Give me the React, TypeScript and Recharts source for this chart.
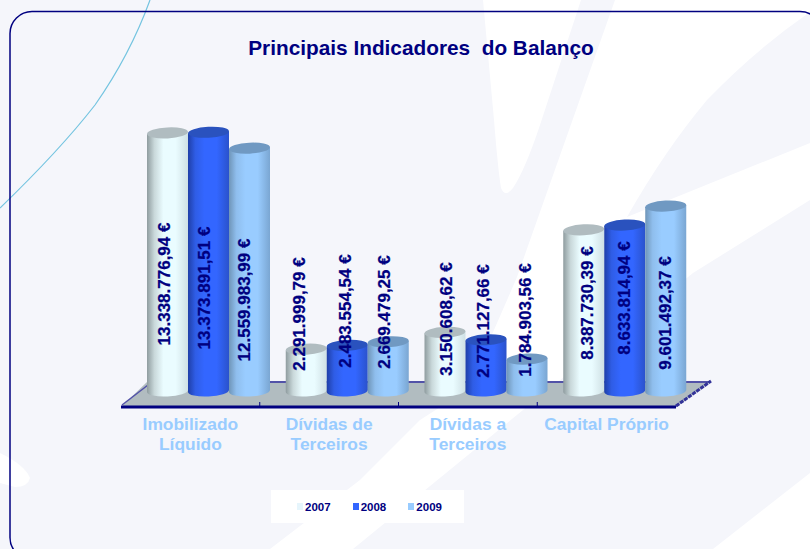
import { Bar, BarChart, LabelList, Legend, XAxis, YAxis } from 'recharts';

const categories = ['Imobilizado Líquido', 'Dívidas de Terceiros', 'Dívidas a Terceiros', 'Capital Próprio'];
const years = ['2007', '2008', '2009'];
const values2007 = [13338776.94, 2291999.79, 3150608.62, 8387730.39];
const values2008 = [13373891.51, 2483554.54, 2771127.66, 8633814.94];
const values2009 = [12559983.99, 2669479.25, 1784903.56, 9601492.37];

const data = categories.map((name, i) => ({
  name,
  '2007': values2007[i],
  '2008': values2008[i],
  '2009': values2009[i]
}));

// colours per series: swatch, top cap, gradient stops
const swatch = ['#e6f5fc', '#3366ff', '#99ccff'];
const caps = ['#b0bcc0', '#2a52be', '#7099c2'];
const stops = [
  ['#8f9c9f', '#c9d8da', '#eafcff', '#eafcff', '#cfe0e4'],
  ['#1f3fa8', '#2f5de6', '#3366ff', '#3366ff', '#2a52cc'],
  ['#6f95b8', '#8fbeed', '#99ccff', '#99ccff', '#7aa6d2']
];

// the original labels sit where the spreadsheet left them, so they are placed by hand
const labelDx = [
  [-3, -7, 1, 4],
  [-4, -2, -3, 0],
  [-5, -4, -2, 0]
];
const labelCy = [
  [284, 314, 319, 303],
  [288, 311, 321, 298],
  [300, 312, 320, 313]
];

const AXIS_Y = 407;
const SHIFT_X = 18; // columns stand back on the floor
const SHIFT_TOP = 12;
const SHIFT_BOTTOM = 15;
const CAT_W = 138.75;

const formatEuro = (v: number) => {
  const [int, dec] = v.toFixed(2).split('.');
  return int.replace(/\B(?=(\d{3})+$)/g, '.') + ',' + dec + ' €';
};

function Cylinder(props: any) {
  const { x, y, width, height, series } = props;
  const left = x + SHIFT_X;
  const right = left + width;
  const top = y - SHIFT_TOP;
  const bottom = y + height - SHIFT_BOTTOM;
  const rx = width / 2;
  const ry = 5.5;
  const lift = 2;
  return (
    <g>
      <path
        d={`M${left} ${top} L${left} ${bottom} A${rx} ${ry} -3 0 0 ${right} ${bottom - lift} L${right} ${top - lift} Z`}
        fill={`url(#cyl${series})`}
      />
      <ellipse
        cx={left + rx}
        cy={top - lift / 2}
        rx={rx}
        ry={ry}
        fill={caps[series]}
        transform={`rotate(-3 ${left + rx} ${top - lift / 2})`}
      />
    </g>
  );
}

function ValueLabel(props: any) {
  const { x, width, value, index, series } = props;
  const cx = x + SHIFT_X + width / 2 + labelDx[series][index];
  const cy = labelCy[series][index];
  return (
    <text
      x={cx}
      y={cy}
      transform={`rotate(-90 ${cx} ${cy})`}
      textAnchor='middle'
      dominantBaseline='central'
      fontFamily='Liberation Sans'
      fontWeight={700}
      fontSize={17}
      fill='#000080'
      stroke='#000080'
      strokeWidth={0.25}
    >
      {formatEuro(value)}
    </text>
  );
}

function CategoryTick({ x, payload, index }: any) {
  const words = payload.value.split(' ');
  const lines = words.length > 2 ? [words.slice(0, 2).join(' '), words[2]] : index === 3 ? [payload.value] : words;
  return (
    <g>
      {index < categories.length - 1 && (
        <line x1={x + CAT_W / 2} x2={x + CAT_W / 2} y1={AXIS_Y - 5} y2={AXIS_Y} stroke='#000080' />
      )}
      {lines.map((line: string, i: number) => (
        <text
          key={line}
          x={x}
          y={430 + i * 20}
          textAnchor='middle'
          fontFamily='Liberation Sans'
          fontWeight={700}
          fontSize={17.4}
          fill='#99ccff'
        >
          {line}
        </text>
      ))}
    </g>
  );
}

function YearLegend({ payload }: any) {
  return (
    <div style={{ display: 'flex', height: 33, alignItems: 'center', background: '#fff', paddingLeft: 26, boxSizing: 'border-box' }}>
      {(payload || []).map((entry: any) => (
        <div key={entry.value} style={{ width: 57, display: 'flex', alignItems: 'center' }}>
          <span style={{ width: 6, height: 7, marginRight: 2, background: entry.color }} />
          <span style={{ font: 'bold 11.5px "Liberation Sans"', color: '#000080' }}>{entry.value}</span>
        </div>
      ))}
    </div>
  );
}

function Backdrop() {
  return (
    <svg width={810} height={549} style={{ position: 'absolute', left: 0, top: 0 }}>
      <rect width={810} height={549} fill='#f5f6fb' />
      <g fill='#ffffff'>
        <path d='M483 0 L581 0 L540 125 Q525 170 513 188 Q505 198 501 188 Q498 170 494 120 Z' />
        <path d='M615 0 L810 0 L810 12 Q755 50 707 100 Q665 150 627 217 L810 143 L810 200 L693 273 L523 410 L353 549 L270 549 L360 480 L420 420 L467 390 Q490 340 517 277 Z' />
        <path d='M713 549 L810 473 L810 549 Z' />
        <path d='M0 453 Q25 465 30 478 Q28 487 15 487 L0 483 Z' />
      </g>
      <path d='M150 0 Q130 55 95 105 Q60 150 0 208' fill='none' stroke='#74c4e0' strokeWidth={1.2} />
      <rect x={10} y={11.5} width={812} height={548} rx={22} fill='none' stroke='#000080' strokeWidth={1.5} />
      <polygon points='121,407 147,382 711,382 676,407' fill='#b1bcc0' />
      <line x1={147} y1={382} x2={711} y2={382} stroke='#5252a8' strokeWidth={2} />
      <line x1={122} y1={405} x2={148} y2={385} stroke='#5252a8' strokeWidth={1.5} />
      <line x1={676} y1={406} x2={711} y2={381} stroke='#333399' strokeWidth={3} strokeDasharray='4 1' />
    </svg>
  );
}

export default function App() {
  const seriesValues = [values2007, values2008, values2009];
  return (
    <div style={{ position: 'absolute', left: 0, top: 0, width: 810, height: 549, overflow: 'hidden' }}>
      <Backdrop />
      <div
        style={{
          position: 'absolute',
          left: 0,
          top: 36,
          width: 842,
          textAlign: 'center',
          font: 'bold 20.8px "Liberation Sans"',
          color: '#000080',
          whiteSpace: 'pre'
        }}
      >
        {'Principais Indicadores  do Balanço'}
      </div>
      <div style={{ position: 'absolute', left: 0, top: 0 }}>
        <BarChart
          width={810}
          height={549}
          data={data}
          barSize={41}
          barGap={0}
          margin={{ top: 133, right: 134, bottom: 0, left: 121 }}
          style={{ overflow: 'visible' }}
        >
          <defs>
            {stops.map((s, i) => (
              <linearGradient key={i} id={`cyl${i}`} x1='0' x2='1' y1='0' y2='0'>
                <stop offset='0%' stopColor={s[0]} />
                <stop offset='18%' stopColor={s[1]} />
                <stop offset='40%' stopColor={s[2]} />
                <stop offset='70%' stopColor={s[3]} />
                <stop offset='100%' stopColor={s[4]} />
              </linearGradient>
            ))}
          </defs>
          <XAxis
            dataKey='name'
            interval={0}
            axisLine={{ stroke: '#000080', strokeWidth: 3 }}
            tickLine={false}
            tick={<CategoryTick />}
            height={109}
          />
          <YAxis hide domain={[0, 14000000]} />
          <Legend
            content={<YearLegend />}
            wrapperStyle={{ position: 'absolute', left: 271, top: 490, width: 193, height: 33, bottom: 'auto' }}
          />
          {years.map((year, s) => (
            <Bar
              key={year}
              dataKey={year}
              name={year}
              fill={swatch[s]}
              isAnimationActive={false}
              shape={(p: any) => <Cylinder {...p} series={s} />}
            >
              <LabelList
                dataKey={year}
                content={(p: any) => (
                  <ValueLabel {...p} value={seriesValues[s][p.index]} series={s} />
                )}
              />
            </Bar>
          ))}
        </BarChart>
      </div>
    </div>
  );
}
